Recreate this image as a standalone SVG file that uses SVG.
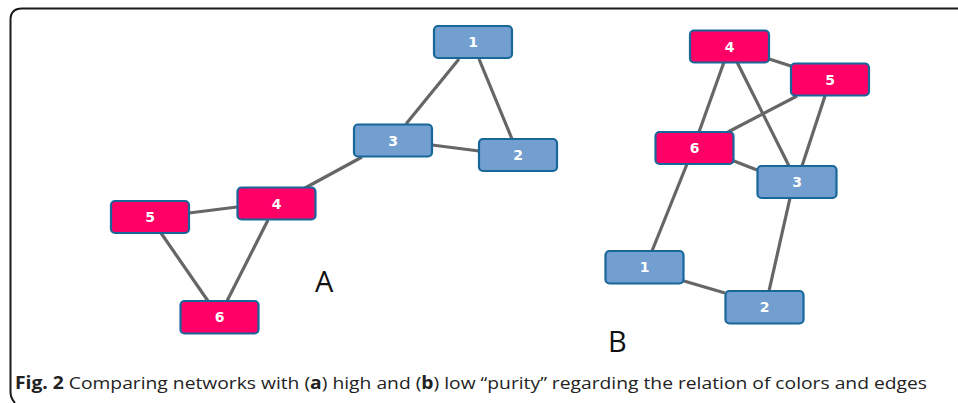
<svg xmlns="http://www.w3.org/2000/svg" width="958" height="403" viewBox="0 0 958 403">
<style>
.frame{fill:none;stroke:#1a1a1a;stroke-width:2}
.e{stroke:#666;stroke-width:3.2;fill:none}
.b rect{fill:#729fcf;stroke:#17679a;stroke-width:2.2}
.r rect{fill:#ff0066;stroke:#17679a;stroke-width:2.2}
.n text{fill:#fff;font-family:"DejaVu Sans",sans-serif;font-weight:bold;font-size:14px;text-anchor:middle}
.big{font-family:"Open Sans",sans-serif;font-size:29px;fill:#111}
.cap{font-family:"Open Sans",sans-serif;font-size:17px;fill:#222}
</style>
<rect width="958" height="403" fill="#fff"/>
<path class="frame" d="M958 8.5 H22 Q10.5 8.5 10.5 20 V392 Q10.5 398 15 403"/>
<g id="edges">
<line class="e" x1="459" y1="59" x2="406" y2="124"/>
<line class="e" x1="479" y1="59" x2="512" y2="139"/>
<line class="e" x1="432" y1="145" x2="479" y2="151"/>
<line class="e" x1="362" y1="157" x2="305" y2="188"/>
<line class="e" x1="189" y1="213" x2="237" y2="207"/>
<line class="e" x1="161" y1="233" x2="208" y2="301"/>
<line class="e" x1="268" y1="220" x2="227" y2="301"/>
<line class="e" x1="724" y1="62" x2="699" y2="132"/>
<line class="e" x1="737" y1="62" x2="789" y2="166"/>
<line class="e" x1="769" y1="59" x2="791" y2="66"/>
<line class="e" x1="797" y1="96" x2="728" y2="132"/>
<line class="e" x1="825" y1="96" x2="802" y2="166"/>
<line class="e" x1="734" y1="161" x2="757" y2="170"/>
<line class="e" x1="687" y1="164" x2="652" y2="251"/>
<line class="e" x1="790" y1="198" x2="769" y2="291"/>
<line class="e" x1="684" y1="281" x2="725" y2="293"/>
</g>
<g id="a1" class="n b"><rect x="434" y="26" width="78" height="32" rx="4"/><text x="473" y="47">1</text></g>
<g id="a2" class="n b"><rect x="479" y="139" width="78" height="32" rx="4"/><text x="518" y="160">2</text></g>
<g id="a3" class="n b"><rect x="354" y="124.5" width="78" height="32" rx="4"/><text x="393" y="145.5">3</text></g>
<g id="a4" class="n r"><rect x="237.5" y="187.5" width="78" height="32" rx="4"/><text x="276.5" y="208.5">4</text></g>
<g id="a5" class="n r"><rect x="111" y="201" width="78" height="32" rx="4"/><text x="150" y="222">5</text></g>
<g id="a6" class="n r"><rect x="180.5" y="301" width="78" height="32.5" rx="4"/><text x="219.5" y="322">6</text></g>
<g id="b4" class="n r"><rect x="690" y="30.5" width="79" height="32" rx="4"/><text x="729.5" y="51.5">4</text></g>
<g id="b5" class="n r"><rect x="791" y="63.5" width="78" height="32" rx="4"/><text x="830" y="84.5">5</text></g>
<g id="b6" class="n r"><rect x="655.5" y="132" width="78" height="32" rx="4"/><text x="694.5" y="153">6</text></g>
<g id="b3" class="n b"><rect x="757.5" y="166" width="79" height="32" rx="4"/><text x="797" y="187">3</text></g>
<g id="b1" class="n b"><rect x="605.5" y="251" width="78" height="32.5" rx="4"/><text x="644.5" y="272">1</text></g>
<g id="b2" class="n b"><rect x="725.5" y="291" width="78" height="32.5" rx="4"/><text x="764.5" y="312">2</text></g>
<text class="big" x="315" y="292">A</text>
<text class="big" x="608" y="352">B</text>
<text class="cap" x="15" y="389" textLength="912" lengthAdjust="spacingAndGlyphs"><tspan font-weight="bold">Fig. 2</tspan> Comparing networks with (<tspan font-weight="bold">a</tspan>) high and (<tspan font-weight="bold">b</tspan>) low “purity” regarding the relation of colors and edges</text>
</svg>
